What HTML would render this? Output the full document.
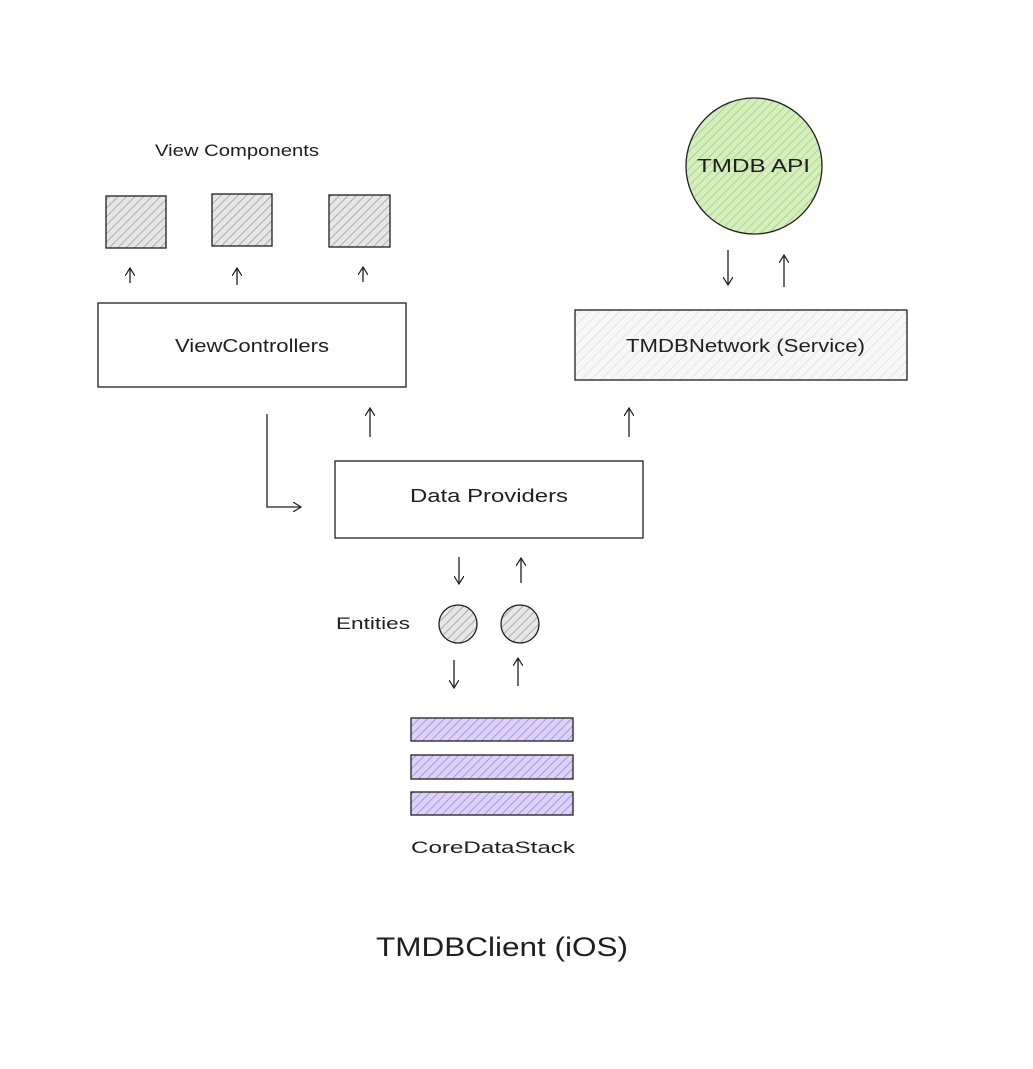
<!DOCTYPE html>
<html><head><meta charset="utf-8"><style>
html,body{margin:0;padding:0;background:#fff;}
svg{display:block;}
text{font-family:"Liberation Sans",sans-serif;fill:#1e1e1e;}
</style></head><body>
<svg width="1033" height="1069" viewBox="0 0 1033 1069" xmlns="http://www.w3.org/2000/svg">
<defs>
<pattern id="hg" width="6" height="6" patternUnits="userSpaceOnUse" patternTransform="rotate(45)">
<rect width="6" height="6" fill="#e6e6e6"/><line x1="0" y1="0" x2="0" y2="6" stroke="#999" stroke-width="1.5"/></pattern>
<pattern id="hl" width="7" height="7" patternUnits="userSpaceOnUse" patternTransform="rotate(45)">
<rect width="7" height="7" fill="#f7f7f7"/><line x1="0" y1="0" x2="0" y2="7" stroke="#d8d8d8" stroke-width="1.2"/></pattern>
<pattern id="hgr" width="6" height="6" patternUnits="userSpaceOnUse" patternTransform="rotate(45)">
<rect width="6" height="6" fill="#d5eec0"/><line x1="0" y1="0" x2="0" y2="6" stroke="#9fd36a" stroke-width="1.6"/></pattern>
<pattern id="hp" width="6" height="6" patternUnits="userSpaceOnUse" patternTransform="rotate(45)">
<rect width="6" height="6" fill="#ddd2fa"/><line x1="0" y1="0" x2="0" y2="6" stroke="#9b84ea" stroke-width="1.6"/></pattern>
<marker id="ah" markerWidth="10" markerHeight="10" refX="8" refY="5" orient="auto" markerUnits="userSpaceOnUse">
<path d="M0,0 L8,5 L0,10" fill="none" stroke="#1e1e1e" stroke-width="1.2"/></marker>
</defs>
<g stroke="#1e1e1e" stroke-width="1.3">
<text x="155" y="156" font-size="17" stroke="none" textLength="164" lengthAdjust="spacingAndGlyphs">View Components</text>
<rect x="106" y="196" width="60" height="52" fill="url(#hg)"/>
<rect x="212" y="194" width="60" height="52" fill="url(#hg)"/>
<rect x="329" y="195" width="61" height="52" fill="url(#hg)"/>
<line x1="130" y1="283" x2="130" y2="268" marker-end="url(#ah)"/>
<line x1="237" y1="285" x2="237" y2="268" marker-end="url(#ah)"/>
<line x1="363" y1="282" x2="363" y2="267" marker-end="url(#ah)"/>
<rect x="98" y="303" width="308" height="84" fill="#fff"/>
<text x="175" y="352" font-size="18" stroke="none" textLength="154" lengthAdjust="spacingAndGlyphs">ViewControllers</text>
<circle cx="754" cy="166" r="68" fill="url(#hgr)"/>
<text x="697" y="172" font-size="18" stroke="none" textLength="113" lengthAdjust="spacingAndGlyphs">TMDB API</text>
<line x1="728" y1="250" x2="728" y2="285" marker-end="url(#ah)"/>
<line x1="784" y1="287" x2="784" y2="255" marker-end="url(#ah)"/>
<rect x="575" y="310" width="332" height="70" fill="url(#hl)"/>
<text x="626" y="352" font-size="18" stroke="none" textLength="239" lengthAdjust="spacingAndGlyphs">TMDBNetwork (Service)</text>
<line x1="370" y1="437" x2="370" y2="408" marker-end="url(#ah)"/>
<line x1="629" y1="437" x2="629" y2="408" marker-end="url(#ah)"/>
<path d="M267,414 L267,507 L301,507" fill="none" marker-end="url(#ah)"/>
<rect x="335" y="461" width="308" height="77" fill="#fff"/>
<text x="410" y="502" font-size="18" stroke="none" textLength="158" lengthAdjust="spacingAndGlyphs">Data Providers</text>
<line x1="459" y1="557" x2="459" y2="584" marker-end="url(#ah)"/>
<line x1="521" y1="583" x2="521" y2="558" marker-end="url(#ah)"/>
<text x="336" y="629" font-size="17" stroke="none" textLength="74" lengthAdjust="spacingAndGlyphs">Entities</text>
<circle cx="458" cy="624" r="19" fill="url(#hg)"/>
<circle cx="520" cy="624" r="19" fill="url(#hg)"/>
<line x1="454" y1="660" x2="454" y2="688" marker-end="url(#ah)"/>
<line x1="518" y1="686" x2="518" y2="658" marker-end="url(#ah)"/>
<rect x="411" y="718" width="162" height="23" fill="url(#hp)"/>
<rect x="411" y="755" width="162" height="24" fill="url(#hp)"/>
<rect x="411" y="792" width="162" height="23" fill="url(#hp)"/>
<text x="411" y="853" font-size="17" stroke="none" textLength="164" lengthAdjust="spacingAndGlyphs">CoreDataStack</text>
<text x="376" y="956" font-size="27" stroke="none" textLength="252" lengthAdjust="spacingAndGlyphs">TMDBClient (iOS)</text>
</g>
</svg>
</body></html>
